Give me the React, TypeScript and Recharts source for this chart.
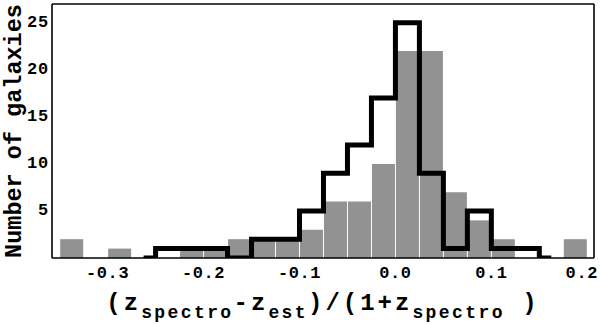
import React from 'react';
import { ComposedChart, Bar, Line, XAxis, YAxis } from 'recharts';

// bin centres of (z_spectro - z_est)/(1 + z_spectro), bin width 0.025
const binCenters = [
  -0.3375, -0.3125, -0.2875, -0.2625, -0.2375, -0.2125, -0.1875, -0.1625, -0.1375, -0.1125, -0.0875,
  -0.0625, -0.0375, -0.0125, 0.0125, 0.0375, 0.0625, 0.0875, 0.1125, 0.1375, 0.1625, 0.1875,
];
// grey filled histogram
const grayCounts = [2, 0, 1, 0, 0, 1, 1, 2, 2, 2, 3, 6, 6, 10, 22, 22, 7, 4, 2, 0, 0, 2];
// thick black outline histogram
const blackCounts = [null, null, null, 0, 1, 1, 1, 0, 2, 2, 5, 9, 12, 17, 25, 9, 1, 5, 1, 1, 0, null];

const xLabelTicks = [-0.3, -0.2, -0.1, 0, 0.1, 0.2];
const xMinorTicks = [-0.35, -0.3, -0.25, -0.2, -0.15, -0.1, -0.05, 0, 0.05, 0.1, 0.15, 0.2];
const yTicks = [5, 10, 15, 20, 25];

const data = binCenters.map((x, i) => ({ x, gray: grayCounts[i], black: blackCounts[i] }));

const FONT = '"Liberation Mono", "DejaVu Sans Mono", monospace';
const X_DOMAIN = [-0.358, 0.207];
const Y_DOMAIN = [0, 27];
const CHART_W = 600;

const XTick = (props: any) => {
  const { x, y, payload } = props;
  const label = Number(payload.value).toFixed(1);
  const fs = 17;
  const ls = 0.6;
  const w = label.length * (fs * 0.6 + ls);
  // keep the last label inside the picture
  const cx = Math.min(x, CHART_W - 2 - w / 2);
  return (
    <text x={cx} y={y} dy={20} textAnchor="middle" fontFamily={FONT} fontWeight="bold" fontSize={fs} letterSpacing={ls} fill="#000">
      {label}
    </text>
  );
};

const YTick = (props: any) => {
  const { x, y, payload } = props;
  return (
    <text x={x} y={y} textAnchor="end" dominantBaseline="central" fontFamily={FONT} fontWeight="bold" fontSize={17} letterSpacing={0.8} fill="#000">
      {payload.value}
    </text>
  );
};

const XTitle = (props: any) => {
  const { x, y, width } = props.viewBox;
  const main = { fontSize: 24, letterSpacing: 3 };
  const sub = { fontSize: 18, letterSpacing: 2.4 };
  return (
    <text x={x + width / 2} y={y + 52} textAnchor="middle" fontFamily={FONT} fontWeight="bold" fill="#000" style={{ whiteSpace: 'pre' }}>
      <tspan {...main}>(z</tspan>
      <tspan {...sub} dy={8}>spectro</tspan>
      <tspan {...main} dy={-8}>-z</tspan>
      <tspan {...sub} dy={8}>est</tspan>
      <tspan {...main} dy={-8}>)/(1+z</tspan>
      <tspan {...sub} dy={8}>spectro</tspan>
      <tspan {...main} dy={-8}> )</tspan>
    </text>
  );
};

const YTitle = (props: any) => {
  const { x, y, height } = props.viewBox;
  const cx = x + 21;
  const cy = y + height / 2;
  return (
    <text x={cx} y={cy} transform={`rotate(-90 ${cx} ${cy})`} textAnchor="middle" fontFamily={FONT} fontWeight="bold" fontSize={23.5} fill="#000">
      Number of galaxies
    </text>
  );
};

const App: React.FC = () => {
  return (
    <div style={{ position: 'absolute', left: 0, top: 0, width: CHART_W, height: 324, background: '#fff' }}>
      <ComposedChart width={CHART_W} height={324} data={data} margin={{ top: 4, right: 6, bottom: 0, left: 0 }} barCategoryGap={0.5}>
        <Bar xAxisId="x" yAxisId="y" dataKey="gray" fill="#929292" isAnimationActive={false} />
        <Line
          xAxisId="x"
          yAxisId="y"
          dataKey="black"
          type="step"
          stroke="#000"
          strokeWidth={5}
          dot={false}
          activeDot={false}
          isAnimationActive={false}
        />

        <XAxis
          xAxisId="x"
          dataKey="x"
          type="number"
          domain={X_DOMAIN}
          allowDataOverflow
          ticks={xLabelTicks}
          height={66}
          tickLine={false}
          tickSize={0}
          tickMargin={0}
          tick={<XTick />}
          axisLine={{ stroke: '#000', strokeWidth: 1.6 }}
          label={{ content: (p: any) => <XTitle {...p} /> }}
        />
        <XAxis
          xAxisId="xin"
          type="number"
          domain={X_DOMAIN}
          allowDataOverflow
          ticks={xMinorTicks}
          mirror
          tick={false}
          tickSize={6}
          tickLine={{ stroke: '#000', strokeWidth: 1.4 }}
          axisLine={false}
        />
        <XAxis
          xAxisId="top"
          orientation="top"
          type="number"
          domain={X_DOMAIN}
          allowDataOverflow
          ticks={xMinorTicks}
          mirror
          tick={false}
          tickSize={6}
          tickLine={{ stroke: '#000', strokeWidth: 1.4 }}
          axisLine={{ stroke: '#000', strokeWidth: 1.6 }}
        />
        <YAxis
          yAxisId="y"
          type="number"
          domain={Y_DOMAIN}
          allowDataOverflow
          ticks={yTicks}
          width={52}
          tickLine={false}
          tickSize={0}
          tickMargin={3}
          tick={<YTick />}
          axisLine={{ stroke: '#000', strokeWidth: 1.6 }}
          label={{ content: (p: any) => <YTitle {...p} /> }}
        />
        <YAxis
          yAxisId="yin"
          type="number"
          domain={Y_DOMAIN}
          allowDataOverflow
          ticks={yTicks}
          mirror
          tick={false}
          tickSize={6}
          tickLine={{ stroke: '#000', strokeWidth: 1.4 }}
          axisLine={false}
        />
        <YAxis
          yAxisId="right"
          orientation="right"
          type="number"
          domain={Y_DOMAIN}
          allowDataOverflow
          ticks={yTicks}
          mirror
          tick={false}
          tickSize={6}
          tickLine={{ stroke: '#000', strokeWidth: 1.4 }}
          axisLine={{ stroke: '#000', strokeWidth: 1.6 }}
        />
      </ComposedChart>
    </div>
  );
};

export default App;
